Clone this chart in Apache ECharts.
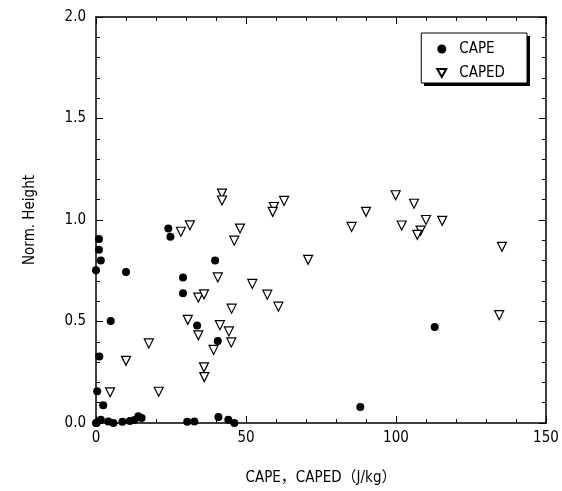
<!DOCTYPE html>
<html><head><meta charset="utf-8">
<script src="https://cdn.jsdelivr.net/npm/echarts@6/dist/echarts.min.js"></script>
<style>html,body{margin:0;padding:0;background:#fff}#c{width:562px;height:491px}</style>
</head><body><div id="c"></div>
<script>
const capeX = [0, 1.0, 1.0, 1.6, 1.1, 0.4, 2.4, 4.9, 10, 24.1, 24.8, 29, 29, 39.7, 33.7, 40.6,
  30.4, 32.8, 40.8, 44.1, 46.1, 0, 0.2, 1.6, 4.1, 5.8, 8.8, 11.3, 12.8, 14.1, 15.2, 112.9, 88.1];
const capeY = [0.752, 0.907, 0.853, 0.80, 0.328, 0.156, 0.088, 0.503, 0.744, 0.958, 0.917, 0.717, 0.639, 0.80, 0.48, 0.404,
  0.006, 0.008, 0.03, 0.016, 0.0, 0.0, 0.0, 0.016, 0.008, 0.0, 0.006, 0.01, 0.015, 0.033, 0.025, 0.473, 0.079];
const capedX = [30.6, 17.6, 10, 4.7, 20.9, 34.1, 28.3, 31.3, 34.1, 42, 42, 62.7, 59.3, 58.9, 48, 46.1,
  70.7, 40.6, 52.1, 57.1, 36, 60.8, 45.2, 41.3, 44.3, 45.1, 39.2, 36, 36.1,
  85.2, 90, 99.9, 106, 101.9, 110, 115.4, 108.2, 107.1, 135.3, 134.4];
const capedY = [0.508, 0.392, 0.306, 0.151, 0.154, 0.432, 0.942, 0.974, 0.618, 1.13, 1.096, 1.094, 1.064, 1.04, 0.958, 0.898,
  0.804, 0.717, 0.685, 0.632, 0.634, 0.573, 0.563, 0.482, 0.451, 0.397, 0.36, 0.274, 0.226,
  0.966, 1.04, 1.122, 1.08, 0.973, 1.0, 0.996, 0.948, 0.927, 0.868, 0.531];
const xTicks = ['0', '50', '100', '150'];
const yTicks = ['0.0', '0.5', '1.0', '1.5', '2.0'];

const font = '"Liberation Sans Narrow","DejaVu Sans Condensed","Noto Sans CJK JP",sans-serif';
const zip = (a, b) => a.map((v, i) => [v, b[i]]);
const tickCommon = {show: true, inside: true, length: 7, lineStyle: {color: '#000', width: 1}};
const minorCommon = {show: true, splitNumber: 5, length: 4, lineStyle: {color: '#000', width: 1}};
const lineCommon = {show: true, onZero: false, lineStyle: {color: '#000', width: 1.5}};

const chart = echarts.init(document.getElementById('c'), null, {renderer: 'canvas'});
chart.setOption({
  animation: false,
  backgroundColor: '#fff',
  grid: {left: 96, right: 16, top: 17, bottom: 67, containLabel: false},
  graphic: [{
    type: 'rect', right: 32, top: 36, z: 0, zlevel: 0,
    shape: {width: 106, height: 50}, style: {fill: '#000'}
  }],
  xAxis: [{
    type: 'value', min: 0, max: 150, interval: 50, position: 'bottom',
    name: 'CAPE，CAPED（J/kg）', nameLocation: 'middle', nameGap: 48,
    nameTextStyle: {fontFamily: font, fontSize: 15, color: '#000'},
    axisLine: lineCommon, axisTick: tickCommon, minorTick: minorCommon,
    splitLine: {show: false},
    axisLabel: {color: '#000', fontFamily: font, fontSize: 15, margin: 8,
      formatter: v => xTicks[Math.round(v / 50)]}
  }, {
    type: 'value', min: 0, max: 150, interval: 50, position: 'top',
    axisLine: lineCommon, axisTick: tickCommon, minorTick: minorCommon,
    splitLine: {show: false}, axisLabel: {show: false}
  }],
  yAxis: [{
    type: 'value', min: 0, max: 2, interval: 0.5, position: 'left',
    name: 'Norm. Height', nameLocation: 'middle', nameGap: 58, nameRotate: 90,
    nameTextStyle: {fontFamily: font, fontSize: 15, color: '#000'},
    axisLine: lineCommon, axisTick: tickCommon, minorTick: minorCommon,
    splitLine: {show: false},
    axisLabel: {color: '#000', fontFamily: font, fontSize: 15, margin: 10,
      formatter: v => yTicks[Math.round(v / 0.5)]}
  }, {
    type: 'value', min: 0, max: 2, interval: 0.5, position: 'right',
    axisLine: lineCommon, axisTick: tickCommon, minorTick: minorCommon,
    splitLine: {show: false}, axisLabel: {show: false}
  }],
  legend: {
    orient: 'vertical', right: 35, top: 33, z: 5,
    itemWidth: 9, itemHeight: 9, itemGap: 8,
    padding: [8, 22, 2, 15],
    backgroundColor: '#fff', borderColor: '#000', borderWidth: 1,
    textStyle: {fontFamily: font, fontSize: 15, color: '#000', padding: [0, 0, 0, 8], lineHeight: 16},
    data: [{name: 'CAPE', icon: 'circle', itemStyle: {opacity: 1}},
           {name: 'CAPED', icon: 'path://M0,0 L10,0 L5,9 Z'}]
  },
  series: [{
    name: 'CAPE', type: 'scatter', symbol: 'circle', symbolSize: 8,
    itemStyle: {color: '#000', opacity: 1}, data: zip(capeX, capeY)
  }, {
    name: 'CAPED', type: 'scatter', symbol: 'triangle', symbolRotate: 180, symbolSize: 9,
    itemStyle: {color: '#fff', borderColor: '#000', borderWidth: 1.2, opacity: 1},
    data: zip(capedX, capedY)
  }]
});
</script></body></html>
